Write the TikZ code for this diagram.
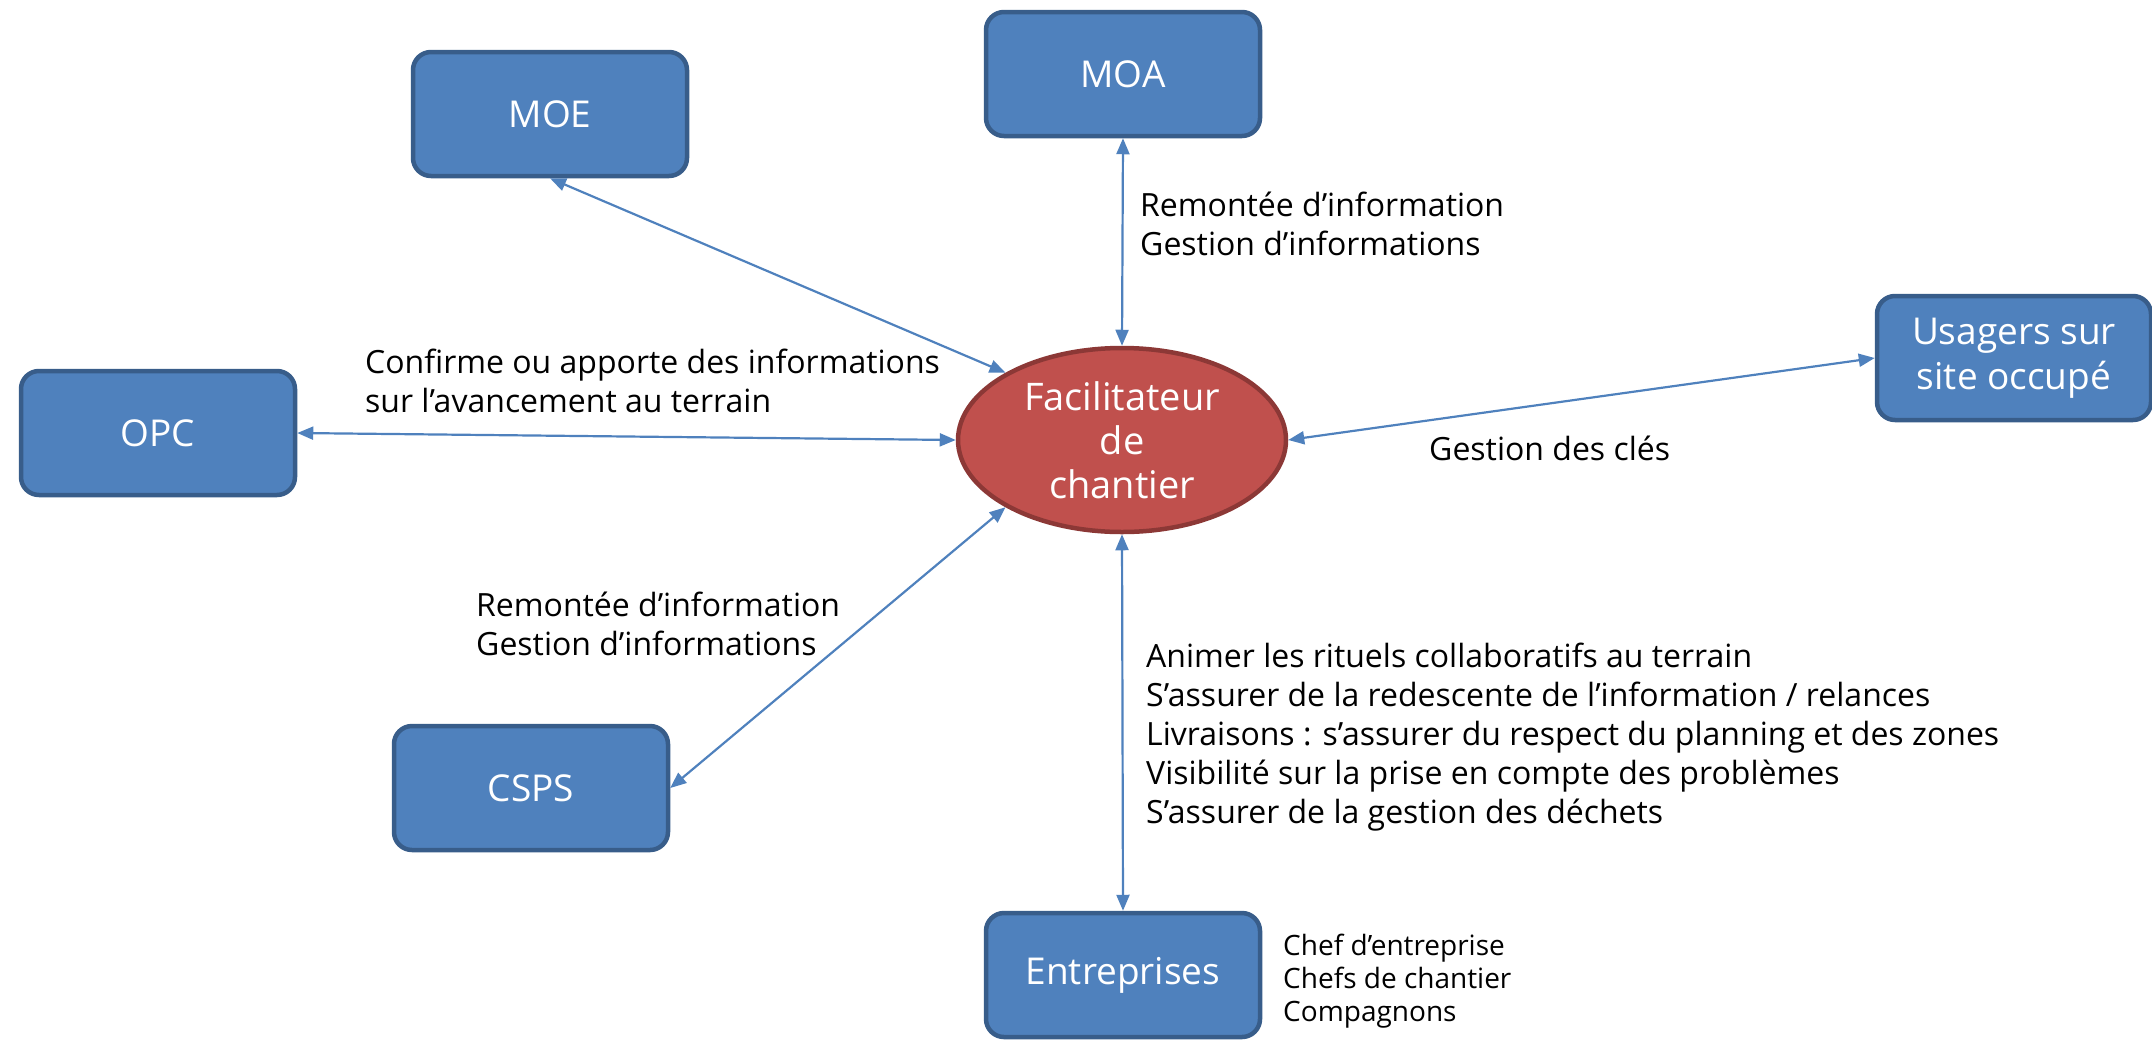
\documentclass[tikz,border=0pt]{standalone}
\usepackage{fontspec}
\setmainfont{Open Sans}
\usetikzlibrary{shapes.geometric,arrows.meta,positioning}
\definecolor{acteurbleu}{RGB}{79,129,189}
\definecolor{acteurbord}{RGB}{56,93,138}
\definecolor{facrouge}{RGB}{192,80,77}
\definecolor{facbord}{RGB}{140,56,54}

\tikzset{
    acteur/.style={draw=acteurbord, fill=acteurbleu, line width=4.5pt, rounded corners=18pt,
        minimum width=274pt, minimum height=124pt, text=white, align=center,
        font=\fontsize{37}{45}\selectfont},
    facil/.style={ellipse, draw=facbord, fill=facrouge, line width=4.5pt, inner sep=0pt,
        minimum width=328pt, minimum height=184pt, text=white, align=center,
        font=\fontsize{38}{44}\selectfont},
    lien/.style={draw=acteurbleu, line width=2.2pt,
        {Triangle[length=16pt,width=13pt]}-{Triangle[length=16pt,width=13pt]}},
    legende/.style={anchor=base west, align=left, inner sep=0pt,
        font=\fontsize{32}{39}\selectfont},
    petite/.style={anchor=base west, align=left, inner sep=0pt,
        font=\fontsize{28}{33}\selectfont}
}

\begin{document}
\begin{tikzpicture}[x=1pt, y=-1pt]
            \useasboundingbox (0,0) rectangle (2152,1039);

            % Central node
            \node[facil] (fac) at (1122,440) {Facilitateur\\de\\chantier};

            % Actors around
            \node[acteur] (moe) at (550,114) {MOE};
            \node[acteur] (moa) at (1123,74) {MOA};
            \node[acteur] (opc) at (158,433) {OPC};
            \node[acteur] (usa) at (2014,358) {Usagers sur\\site occupé};
            \node[acteur] (csps) at (531,788) {CSPS};
            \node[acteur] (ent) at (1123,975) {Entreprises};

            % Draw the links
            \draw[lien] (moe.south) -- (fac.150);
            \draw[lien] (moa.south) -- (fac.north);
            \draw[lien] (opc.east) -- (fac.west);
            \draw[lien] (fac.east) -- (usa.west);
            \draw[lien] (csps.east) -- (fac.210);
            \draw[lien] (ent.north) -- (fac.south);

            % Labels of the links (anchored on the last baseline)
            \node[legende] (lmoa) at (1140,255) {Remontée d’information\\Gestion d’informations};
            \node[legende] (lopc) at (365,412) {Confirme ou apporte des informations\\sur l’avancement au terrain};
            \node[legende] (lusa) at (1429,460) {Gestion des clés};
            \node[legende] (lcsps) at (476,655) {Remontée d’information\\Gestion d’informations};
            \node[legende] (lent) at (1146,823) {Animer les rituels collaboratifs au terrain\\
                S’assurer de la redescente de l’information / relances\\
                Livraisons : s’assurer du respect du planning et des zones\\
                Visibilité sur la prise en compte des problèmes\\
                S’assurer de la gestion des déchets};
            \node[petite] (lcomp) at (1283,1021) {Chef d’entreprise\\Chefs de chantier\\Compagnons};

        \end{tikzpicture}
\end{document}
